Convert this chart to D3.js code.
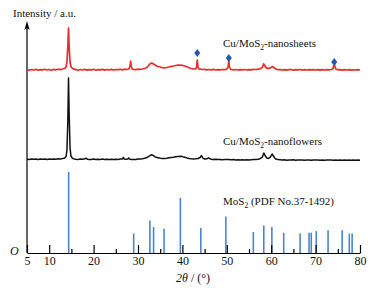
<!DOCTYPE html>
<html>
<head>
<meta charset="utf-8">
<script src="https://cdn.jsdelivr.net/npm/d3@7"></script>
<style>
  body { margin: 0; background: #fff; }
  text { font-family: "Liberation Serif", "Times New Roman", serif; }
</style>
</head>
<body>
<div id="chart"></div>
<script>
// XRD patterns: Cu/MoS2 nanosheets, nanoflowers and MoS2 reference (PDF 37-1492)

// tick labels on the 2theta axis
const majorTicks = [5, 10, 20, 30, 40, 50, 60, 70, 80];
const minorTicks = [15, 25, 35, 45, 55, 65, 75];

// Cu/MoS2-nanosheets: [2theta, intensity above its own baseline]
const sheets = [[5,0.4],[5.5,-0.3],[6,0.5],[6.5,0],[7,0.6],[7.5,-0.2],[8,0.4],[8.5,0.1],[9,0.7],[9.5,0],[10,0.5],[10.5,-0.2],[11,0.6],[11.5,0.2],[12,0.8],[12.5,0.3],[13,1],[13.5,1.6],[13.8,3],[14.0,8],[14.2,24],[14.35,42],[14.5,22],[14.7,8],[14.9,3.5],[15.2,1.8],[15.6,0.8],[16,0.4],[16.5,-0.2],[17,0.5],[17.5,0],[18,0.6],[18.5,-0.1],[19,0.4],[19.5,0.2],[20,0.7],[20.5,-0.2],[21,0.4],[21.5,0.1],[22,0.6],[22.5,-0.1],[23,0.5],[23.5,0.2],[24,0.6],[24.5,0],[25,0.5],[25.5,0.3],[26,0.7],[26.5,0.1],[27,0.8],[27.5,0.5],[28.0,1.2],[28.2,4],[28.35,9],[28.5,3.5],[28.7,1],[29,0.6],[29.5,0.3],[30,0.8],[30.5,0.6],[31,1],[31.5,1.5],[32,2.5],[32.4,4.5],[32.8,6.5],[33.1,7],[33.5,6],[34,4.5],[34.5,3.5],[35,3],[35.5,2.3],[36,2],[36.5,2.5],[37,3],[37.5,3.6],[38,4],[38.5,4.5],[39,4.8],[39.5,5],[40,4.6],[40.5,4],[41,3.2],[41.5,2.2],[42,1.5],[42.5,1],[43,1.2],[43.2,3],[43.35,10],[43.5,3],[43.7,1],[44,0.8],[44.5,0.5],[45,0.6],[45.5,0.2],[46,0.5],[46.5,0.1],[47,0.6],[47.5,0],[48,0.4],[48.5,0.2],[49,0.5],[49.5,0.3],[50,0.9],[50.3,3],[50.45,10],[50.6,3],[50.8,1],[51,0.5],[51.5,0.2],[52,0.5],[52.5,0],[53,0.4],[53.5,0.1],[54,0.5],[54.5,0],[55,0.4],[55.5,0.2],[56,0.6],[56.5,0.5],[57,0.8],[57.5,1.2],[58,2.5],[58.3,6],[58.5,5],[58.8,2.5],[59.2,1.5],[59.6,1.8],[60,2.5],[60.3,3.5],[60.6,2.5],[61,1],[61.5,0.4],[62,0.3],[62.5,0],[63,0.4],[63.5,-0.1],[64,0.3],[64.5,0.5],[65,-0.2],[65.5,0.3],[66,0.1],[66.5,0.5],[67,-0.1],[67.5,0.3],[68,0],[68.5,0.4],[69,0.1],[69.5,0.4],[70,0],[70.5,0.3],[71,-0.1],[71.5,0.3],[72,0],[72.5,0.4],[73,0.1],[73.5,0.5],[73.9,1],[74.05,4],[74.2,7],[74.35,3],[74.6,0.8],[75,0.2],[75.5,0.4],[76,-0.1],[76.5,0.3],[77,0],[77.5,0.3],[78,-0.2],[78.5,0.2],[79,0],[79.5,0.3],[80,0]];

// Cu/MoS2-nanoflowers
const flowers = [[5,0.8],[5.5,0.5],[6,1],[6.5,0.7],[7,1.1],[7.5,0.6],[8,1],[8.5,0.8],[9,1.1],[9.5,0.6],[10,1],[10.5,0.7],[11,1.1],[11.5,0.8],[12,1.2],[12.5,1],[13,1.4],[13.5,2],[13.8,3.5],[14.0,10],[14.2,40],[14.35,82],[14.5,45],[14.7,12],[14.9,4],[15.2,1.8],[15.6,1.1],[16,0.8],[16.5,0.6],[17,1],[17.5,0.7],[18,1.2],[18.3,1.8],[18.6,0.8],[19,0.6],[19.5,0.5],[20,0.9],[20.5,0.4],[21,0.7],[21.5,0.6],[22,0.9],[22.5,0.5],[23,0.8],[23.5,0.5],[24,0.8],[24.5,0.6],[25,0.7],[25.5,0.5],[26,0.9],[26.5,1.1],[26.7,2.6],[26.9,0.9],[27.3,0.7],[27.7,1.1],[27.9,2.1],[28.1,0.9],[28.5,0.5],[29,0.6],[29.5,0.5],[30,0.9],[30.5,1],[31,1.3],[31.5,1.8],[32,2.5],[32.5,3.8],[33,5.2],[33.3,4.8],[33.8,3.3],[34.3,2.4],[35,1.8],[35.5,1.5],[36,1.5],[36.5,1.8],[37,2.2],[37.5,2.5],[38,2.8],[38.5,3.3],[39,3.6],[39.5,3.8],[40,3.4],[40.5,2.8],[41,2.1],[41.5,1.6],[42,1.2],[42.5,1],[43,1.2],[43.5,1.5],[44,2.5],[44.3,4.5],[44.6,2],[45,1],[45.5,1.2],[45.9,2.2],[46.3,1],[46.8,0.6],[47.5,0.7],[48,0.4],[48.5,0.5],[49,0.3],[49.5,0.6],[50,0.4],[50.5,0.5],[51,0.2],[51.5,0.4],[52,0.1],[52.5,0.3],[53,0],[53.5,0.2],[54,0],[54.5,0.2],[55,0.1],[55.5,0.3],[56,0.4],[56.5,0.5],[57,0.8],[57.5,1.3],[58,2.8],[58.35,7],[58.6,4.5],[59,2],[59.4,1.6],[59.8,2.8],[60.2,6],[60.5,4],[60.9,1.3],[61.5,0.4],[62,0.2],[62.5,0],[63,0.2],[63.5,-0.2],[64,0.1],[64.5,-0.1],[65,0.2],[65.5,-0.2],[66,0.1],[66.5,-0.1],[67,0.1],[67.5,-0.3],[68,0],[68.5,0.1],[69,-0.2],[69.5,0.1],[70,-0.1],[70.5,0],[71,-0.3],[71.5,0.1],[72,-0.2],[72.5,0],[73,-0.1],[73.5,0.1],[74,-0.3],[74.5,0],[75,-0.2],[75.5,0],[76,-0.3],[76.5,0],[77,-0.2],[77.5,0],[78,-0.3],[78.5,0],[79,-0.2],[79.5,-0.1],[80,-0.2]];

// MoS2 reference lines: position and relative intensity
const pdfPos = [14.38, 29.03, 32.68, 33.51, 35.87, 39.54, 44.15, 49.79, 55.98, 58.33, 60.15, 62.82, 66.51, 68.52, 69.02, 70.15, 72.81, 75.98, 77.59, 78.23];
const pdfInt = [100, 24, 40, 32, 30, 68, 31, 45, 26, 34, 32, 25, 24, 25, 25, 27, 28, 28, 24, 24];

// Cu peaks marked with diamonds on the nanosheets pattern
const cuPos = [43.35, 50.45, 74.2];
const cuMark = [17, 12, 8];

const width = 385, height = 293;
const sheetsOffset = 183, flowersOffset = 93;

let svg = d3.select("#chart")
    .append("svg")
    .attr("width", width)
    .attr("height", height);

let x = d3.scaleLinear().domain([5, 80]).range([27, 360]);
let y = d3.scaleLinear().domain([0, 240]).range([253, 13]);
let yPdf = d3.scaleLinear().domain([0, 100]).range([253, 172]);

// reference sticks
svg.append("g")
    .selectAll("line")
    .data(pdfPos)
    .join("line")
    .attr("x1", d => x(d))
    .attr("x2", d => x(d))
    .attr("y1", yPdf(0))
    .attr("y2", (d, i) => yPdf(pdfInt[i]))
    .attr("stroke", "#4a86cf")
    .attr("stroke-width", 1.6);

// x axis: major ticks with labels, minor ticks pointing up
let xAxis = svg.append("g")
    .attr("transform", `translate(0,${y(0)})`)
    .call(d3.axisBottom(x).tickValues(majorTicks).tickFormat(d3.format("d"))
        .tickSize(-8).tickSizeOuter(0).tickPadding(3));
xAxis.selectAll("text")
    .attr("font-size", 12)
    .attr("font-family", "Liberation Serif, serif")
    .attr("fill", "#111");

svg.append("g")
    .attr("transform", `translate(0,${y(0)})`)
    .call(d3.axisBottom(x).tickValues(minorTicks).tickFormat("").tickSize(-4).tickSizeOuter(0))
    .select(".domain").remove();

svg.selectAll(".tick line, .domain")
    .attr("stroke", "#000")
    .attr("stroke-width", 1.2);

// y axis with arrow
svg.append("line")
    .attr("x1", x(5)).attr("x2", x(5))
    .attr("y1", y(0)).attr("y2", 27)
    .attr("stroke", "#000")
    .attr("stroke-width", 1.2);
svg.append("path")
    .attr("d", `M${x(5)},21 L${x(5) - 2.6},30 L${x(5)},28 L${x(5) + 2.6},30 Z`)
    .attr("fill", "#000");

// patterns
let line = d3.line().x(d => x(d[0]));

svg.append("path")
    .datum(flowers)
    .attr("fill", "none")
    .attr("stroke", "#111")
    .attr("stroke-width", 1.5)
    .attr("stroke-linejoin", "round")
    .attr("d", line.y(d => y(d[1] + flowersOffset)));

svg.append("path")
    .datum(sheets)
    .attr("fill", "none")
    .attr("stroke", "#ee2a2a")
    .attr("stroke-width", 1.7)
    .attr("stroke-linejoin", "round")
    .attr("d", line.y(d => y(d[1] + sheetsOffset)));

// Cu diamonds
svg.append("g")
    .selectAll("path")
    .data(cuPos)
    .join("path")
    .attr("transform", (d, i) => `translate(${x(d)},${y(cuMark[i] + sheetsOffset)})`)
    .attr("d", "M0,-4 L3,0 L0,4 L-3,0 Z")
    .attr("fill", "#2459b0");

// labels
let label = (xp, yp, pre, post) => {
    let t = svg.append("text")
        .attr("x", xp).attr("y", yp)
        .attr("font-size", 11)
        .attr("fill", "#111");
    t.append("tspan").text(pre);
    t.append("tspan").attr("font-size", 7.5).attr("dy", 2.5).text("2");
    t.append("tspan").attr("dy", -2.5).text(post);
};
label(223, 47, "Cu/MoS", "-nanosheets");
label(223, 145, "Cu/MoS", "-nanoflowers");
label(223, 205, "MoS", " (PDF No.37-1492)");

svg.append("text")
    .attr("x", 13).attr("y", 17)
    .attr("font-size", 11)
    .attr("fill", "#111")
    .text("Intensity / a.u.");

svg.append("text")
    .attr("x", 10).attr("y", 255)
    .attr("font-size", 12)
    .attr("font-style", "italic")
    .attr("fill", "#111")
    .text("O");

let xt = svg.append("text")
    .attr("x", 193).attr("y", 282)
    .attr("text-anchor", "middle")
    .attr("font-size", 12)
    .attr("fill", "#111");
xt.append("tspan").attr("font-style", "italic").text("2θ");
xt.append("tspan").text(" / (°)");
</script>
</body>
</html>
